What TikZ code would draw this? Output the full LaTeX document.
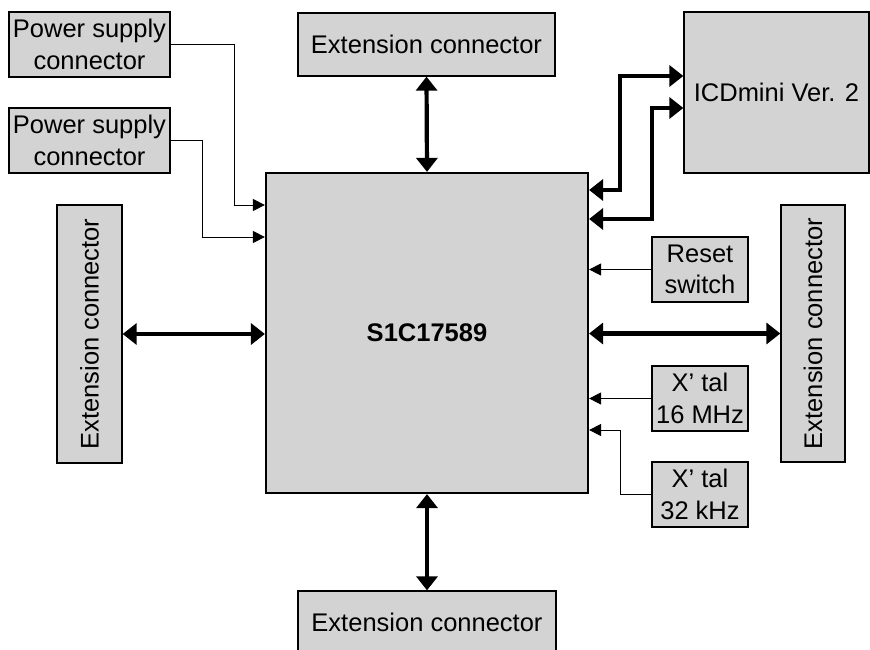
\documentclass[tikz,border=0pt]{standalone}
\usepackage{fontspec}
\setmainfont{Liberation Sans}
\usetikzlibrary{arrows.meta}
\definecolor{boxgray}{RGB}{211,211,211}
\tikzset{
  blk/.style={draw=black, line width=1.3pt, fill=boxgray, inner sep=0pt, align=center,
    font=\fontsize{25.5}{31.5}\selectfont},
  mainblk/.style={blk, line width=2.2pt},
  sig/.style={line width=1pt, -{Triangle[length=12pt,width=12pt]}},
  bus/.style={line width=4.2pt, {Triangle[length=14pt,width=21pt]}-{Triangle[length=14pt,width=21pt]}},
}
\begin{document}
\begin{tikzpicture}[x=1pt,y=-1pt]
\useasboundingbox (0,0) rectangle (870,650);
% blocks
\node[mainblk, minimum width=322pt, minimum height=320pt] (main) at (427,333) {\textbf{S1C17589}};
\node[blk, minimum width=161pt, minimum height=65pt] (ps1) at (89.5,44.5) {Power supply\\connector};
\node[blk, minimum width=161pt, minimum height=65pt] (ps2) at (89.5,140.5) {Power supply\\connector};
\node[blk, minimum width=257pt, minimum height=63pt] (extT) at (426.5,44.5) {Extension connector};
\node[blk, minimum width=258pt, minimum height=63pt] (extB) at (427,622.5) {Extension connector};
\node[blk, minimum width=258pt, minimum height=65pt, rotate=90] (extL) at (89.5,334) {Extension connector};
\node[blk, minimum width=257pt, minimum height=64pt, rotate=90] (extR) at (813,333.5) {Extension connector};
\node[blk, minimum width=185pt, minimum height=161pt] (icd) at (776.5,92.5) {ICDmini Ver. 2};
\node[blk, minimum width=96pt, minimum height=65pt] (reset) at (700,269.5) {Reset\\switch};
\node[blk, minimum width=96pt, minimum height=65pt] (x16) at (700,398.5) {X’ tal\\16 MHz};
\node[blk, minimum width=96pt, minimum height=65pt] (x32) at (700,494.5) {X’ tal\\32 kHz};
% thin signal lines
\draw[sig] (ps1.east) -| (234,205) -- (main.west |- 0,205);
\draw[sig] (ps2.east) -| (202,237) -- (main.west |- 0,237);
\draw[sig] (reset.west) -- (main.east |- reset.west);
\draw[sig] (x16.west) -- (main.east |- x16.west);
\draw[sig] (x32.west) -| (620,430) -- (main.east |- 0,430);
% buses
\draw[bus] (extT.south) -- (main.north);
\draw[bus] (main.south) -- (extB.north);
\draw[bus] (extL.south) -- (main.west |- extL.south);
\draw[bus] (main.east |- extR.north) -- (extR.north);
\draw[bus] (main.east |- 0,190) -| (620,76) -- (icd.west |- 0,76);
\draw[bus] (main.east |- 0,219) -| (652,108) -- (icd.west |- 0,108);
\end{tikzpicture}
\end{document}
